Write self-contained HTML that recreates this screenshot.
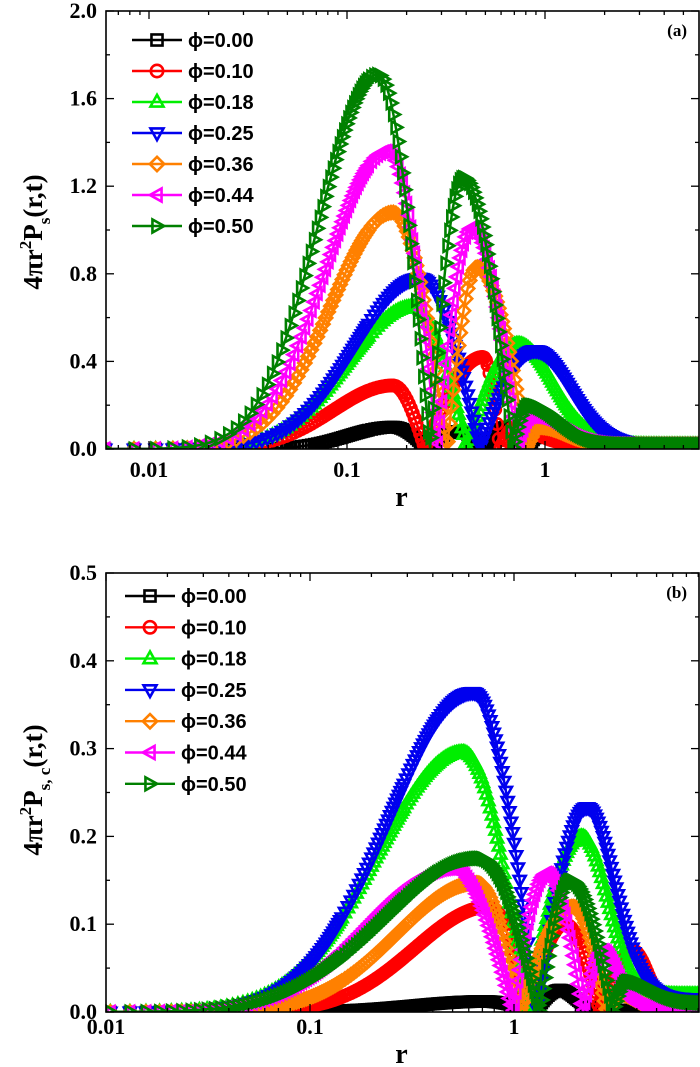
<!DOCTYPE html>
<html><head><meta charset="utf-8"><style>
html,body{margin:0;padding:0;background:#fff;width:700px;height:1067px;overflow:hidden}
svg text{font-family:"Liberation Serif",serif;font-weight:bold}
.lg{font-family:"Liberation Sans","DejaVu Sans",sans-serif !important;font-size:20px}
</style></head><body>
<svg id="s" width="700" height="1067" xmlns="http://www.w3.org/2000/svg"></svg>
<script>
var S=document.getElementById('s'),NS='http://www.w3.org/2000/svg';
function el(t,a,p){var e=document.createElementNS(NS,t);for(var k in a)e.setAttribute(k,a[k]);(p||S).appendChild(e);return e;}
var cols=['#000000','#ff0000','#00ee00','#0000ee','#ff8000','#ff00ff','#008000'];
var mk=['sq','ci','tu','td','di','tl','tr'];
function marker(x,y,t,c,g,s){s=s||6;var a={fill:'none',stroke:c,'stroke-width':2.6};
 if(t=='sq'){a.x=x-s*0.85;a.y=y-s*0.85;a.width=s*1.7;a.height=s*1.7;el('rect',a,g);}
 else if(t=='ci'){a.cx=x;a.cy=y;a.r=s*0.95;el('circle',a,g);}
 else{var p;if(t=='tu')p=[[x,y-s*1.1],[x-s,y+s*0.7],[x+s,y+s*0.7]];
 else if(t=='td')p=[[x,y+s*1.1],[x-s,y-s*0.7],[x+s,y-s*0.7]];
 else if(t=='tl')p=[[x-s*1.1,y],[x+s*0.7,y-s],[x+s*0.7,y+s]];
 else if(t=='tr')p=[[x+s*1.1,y],[x-s*0.7,y-s],[x-s*0.7,y+s]];
 else p=[[x,y-s*1.1],[x+s*1.1,y],[x,y+s*1.1],[x-s*1.1,y]];
 a.points=p.map(function(q){return q.join(',')}).join(' ');el('polygon',a,g);}}
function mkf(b,sL,tailS,plat){return function(x){
 var f=b[0];
 if(x<f[1]){return f[2]*Math.exp(-Math.pow(x-f[1],2)/(2*sL*sL));}
 for(var i=0;i<b.length;i++){var q=b[i];var l=q[0],c=q[1],h=q[2],r=q[3];
  if(i==b.length-1&&x>=c){var t=Math.exp(-Math.pow(x-c,2)/(2*tailS*tailS));return plat+(h-plat)*t;}
  if(x>=(i==0?-1e9:l)&&x<=r){ if(x<=c){return h*Math.cos(Math.PI/2*(c-x)/(c-l));} else return h*Math.cos(Math.PI/2*(x-c)/(r-c));}
 }return plat;};}
function panel(P){
 var L=106,R=699,T=P.top,B=P.bot;
 var clip=el('clipPath',{id:'c'+P.id});el('rect',{x:L,y:T,width:R-L,height:B-T},clip);
 var cg=el('g',{'clip-path':'url(#c'+P.id+')'});
 for(var k=0;k<7;k++){var f=P.curves[k];var pts=[];var last=-99;
  var mg=el('g',{},cg);
  for(var r=P.r0;r<20;r+=P.dr){var x=P.x0+P.dec*(Math.log10(r)+2);if(x>R+10)break;if(x<L-10)continue;
   var v=Math.max(0,f(x));var y=B-v*P.sc;pts.push(x.toFixed(1)+','+y.toFixed(1));
   if(x-last>=1.6){marker(x,y,mk[k],cols[k],mg);last=x;}}
  el('polyline',{points:pts.join(' '),fill:'none',stroke:cols[k],'stroke-width':2.5},cg);
 }
 el('rect',{x:L,y:T,width:R-L,height:B-T,fill:'none',stroke:'#000','stroke-width':1.6});
 for(var d=-3;d<=1;d++)for(var m=1;m<10;m++){var x=P.x0+P.dec*(d+2+Math.log10(m));if(x<L||x>R)continue;var len=m==1?8:4;
  el('line',{x1:x,y1:B,x2:x,y2:B-len,stroke:'#000','stroke-width':1.3});el('line',{x1:x,y1:T,x2:x,y2:T+len,stroke:'#000','stroke-width':1.3});
  if(m==1){var lab=['0.001','0.01','0.1','1','10'][d+3];var t=el('text',{x:x,y:B+P.lblOff,'font-size':22,'text-anchor':'middle'});t.textContent=lab;}}
 for(var i=0;i<=P.ny*2;i++){var y=B-(B-T)*i/(P.ny*2);var len=i%2==0?8:4;
  el('line',{x1:L,y1:y,x2:L+len,y2:y,stroke:'#000','stroke-width':1.3});el('line',{x1:R,y1:y,x2:R-len,y2:y,stroke:'#000','stroke-width':1.3});
  if(i%2==0){var t=el('text',{x:97,y:y+7,'font-size':22,'text-anchor':'end'});t.textContent=P.ylabs[i/2];}}
 var t=el('text',{x:(L+R)/2-1,y:B+P.lblOff+29,'font-size':28,'text-anchor':'middle'});t.textContent='r';
 var t=el('text',{x:687,y:T+25,'font-size':17,'text-anchor':'end'});t.textContent=P.tag;
 var labs=['0.00','0.10','0.18','0.25','0.36','0.44','0.50'];
 for(var k=0;k<7;k++){var y=P.lg[1]+k*P.lg[3];
  el('line',{x1:P.lg[0]-25,y1:y,x2:P.lg[0]+25,y2:y,stroke:cols[k],'stroke-width':2.4});
  marker(P.lg[0],y,mk[k],cols[k],S,6.5);var t=el('text',{x:P.lg[2],y:y+7,'class':'lg'});t.textContent='\u03d5='+labs[k];}
 var ty=el('text',{transform:'translate('+P.yl[0]+','+P.yl[1]+') rotate(-90)','font-size':27,'text-anchor':'middle'});
 ty.innerHTML=P.yt;
}
var A=[
 mkf([[0,393,0.1,427],[427,457,0.08,485],[485,507,0.1,527],[527,543,0.07,600]],45,18,0.01),
 mkf([[0,393,0.29,425],[425,483,0.42,500],[500,515,0.1,600]],60,22,0.02),
 mkf([[0,413,0.65,467],[467,518,0.48,700]],65,35,0.02),
 mkf([[0,420,0.78,480],[480,535,0.45,700]],65,35,0.02),
 mkf([[0,393,1.08,447],[447,477,0.83,527],[527,540,0.1,700]],62,25,0.02),
 mkf([[0,388,1.36,437],[437,472,1.01,517],[517,532,0.15,700]],62,28,0.02),
 mkf([[0,378,1.71,430],[430,463,1.24,513],[513,528,0.2,700]],59,30,0.02)];
panel({id:'a',top:11,bot:449,x0:149,dec:198,r0:0.006,dr:0.0024,sc:219,curves:A,ny:5,ylabs:['0.0','0.4','0.8','1.2','1.6','2.0'],lblOff:28,tag:'(a)',lg:[157,40,188,31],yl:[42,232],
 yt:'4\u03c0r<tspan dy="-11" font-size="17">2</tspan><tspan dy="11">P</tspan><tspan dy="8" font-size="17">s</tspan><tspan dy="-8">(r,t)</tspan>'});
var Bc=[
 mkf([[0,485,0.012,535],[535,560,0.025,700]],70,15,0.002),
 mkf([[0,490,0.12,527],[527,565,0.1,600],[600,633,0.07,700]],75,15,0.003),
 mkf([[0,463,0.296,527],[527,582,0.2,700]],85,25,0.02),
 mkf([[0,473,0.364,537],[537,587,0.233,700]],84,28,0.015),
 mkf([[0,477,0.147,520],[520,573,0.12,607],[607,620,0.02,700]],80,15,0.004),
 mkf([[0,453,0.164,513],[513,547,0.158,583],[583,603,0.07,700]],85,15,0.005),
 mkf([[0,480,0.175,540],[540,570,0.15,613],[613,627,0.035,700]],96,25,0.01)];
panel({id:'b',top:573,bot:1012,x0:106,dec:204,r0:0.0105,dr:0.0026,sc:878,curves:Bc,ny:5,ylabs:['0.0','0.1','0.2','0.3','0.4','0.5'],lblOff:22,tag:'(b)',lg:[150,596,181,31.3],yl:[42,790],
 yt:'4\u03c0r<tspan dy="-11" font-size="17">2</tspan><tspan dy="11">P</tspan><tspan dy="8" font-size="17">s, c</tspan><tspan dy="-8">(r,t)</tspan>'});
</script>
</body></html>
